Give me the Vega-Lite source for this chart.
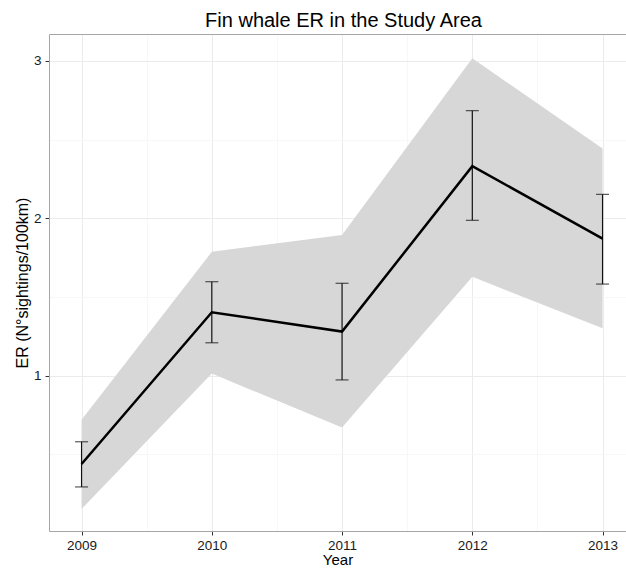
{
  "$schema": "https://vega.github.io/schema/vega-lite/v6.json",
  "width": 577,
  "height": 497,
  "autosize": {"type": "none"},
  "padding": {"left": 49, "top": 34, "right": 0, "bottom": 40},
  "background": "white",
  "title": {
    "text": "Fin whale ER in the Study Area",
    "font": "Liberation Sans",
    "fontSize": 20,
    "fontWeight": "normal",
    "color": "#000000",
    "anchor": "middle",
    "frame": "group",
    "offset": 3,
    "dx": 6
  },
  "config": {
    "view": {"stroke": null},
    "axis": {
      "labelFont": "Liberation Sans",
      "labelFontSize": 13.5,
      "labelColor": "#1a1a1a",
      "titleFont": "Liberation Sans",
      "titleFontSize": 16,
      "titleFontWeight": "normal",
      "titleColor": "#000000",
      "domainColor": "#a6a6a6",
      "domainWidth": 1,
      "tickColor": "#333333",
      "tickSize": 4,
      "tickWidth": 1
    },
    "axisY": {"titleFontSize": 16, "titlePadding": 3}
  },
  "data": {
    "values": [
      {"year": 2009, "er": 0.439, "er_lo": 0.293, "er_hi": 0.580, "band_lo": 0.152, "band_hi": 0.720},
      {"year": 2010, "er": 1.403, "er_lo": 1.209, "er_hi": 1.597, "band_lo": 1.013, "band_hi": 1.787},
      {"year": 2011, "er": 1.280, "er_lo": 0.973, "er_hi": 1.587, "band_lo": 0.671, "band_hi": 1.894},
      {"year": 2012, "er": 2.331, "er_lo": 1.987, "er_hi": 2.684, "band_lo": 1.628, "band_hi": 3.017},
      {"year": 2013, "er": 1.871, "er_lo": 1.582, "er_hi": 2.152, "band_lo": 1.302, "band_hi": 2.443}
    ]
  },
  "resolve": {"axis": {"x": "independent"}},
  "layer": [
    {
      "mark": {"type": "area", "color": "#d7d7d7", "opacity": 1},
      "encoding": {
        "x": {
          "field": "year",
          "type": "quantitative",
          "scale": {"domain": [2008.75, 2013.18], "nice": false, "zero": false},
          "axis": {
            "orient": "bottom",
            "title": "Year",
            "values": [2009, 2009.5, 2010, 2010.5, 2011, 2011.5, 2012, 2012.5, 2013],
            "labelExpr": "datum.value % 1 == 0 ? format(datum.value, 'd') : ''",
            "tickOpacity": {"condition": {"test": "datum.value % 1 != 0", "value": 0}, "value": 1},
            "grid": true,
            "gridColor": {"condition": {"test": "datum.value % 1 != 0", "value": "#f7f7f7"}, "value": "#ebebeb"},
            "labelPadding": 3,
            "titlePadding": 1,
            "titleFontSize": 15
          }
        },
        "y": {
          "field": "band_lo",
          "type": "quantitative",
          "scale": {"domain": [0.013, 3.171], "nice": false, "zero": false},
          "title": "ER (N°sightings/100km)",
          "axis": {
            "values": [0.5, 1, 1.5, 2, 2.5, 3],
            "labelExpr": "datum.value % 1 == 0 ? format(datum.value, 'd') : ''",
            "tickOpacity": {"condition": {"test": "datum.value % 1 != 0", "value": 0}, "value": 1},
            "grid": true,
            "gridColor": {"condition": {"test": "datum.value % 1 != 0", "value": "#f7f7f7"}, "value": "#ebebeb"},
            "labelPadding": 4,
            "titlePadding": 3,
            "titleFontSize": 16
          }
        },
        "y2": {"field": "band_hi"}
      }
    },
    {
      "mark": {"type": "errorbar", "ticks": {"size": 13}, "color": "#111111", "thickness": 1.2},
      "encoding": {
        "x": {"field": "year", "type": "quantitative", "axis": null},
        "y": {"field": "er_lo", "type": "quantitative", "title": "ER (N°sightings/100km)"},
        "y2": {"field": "er_hi"}
      }
    },
    {
      "mark": {"type": "line", "color": "#000000", "strokeWidth": 2.5},
      "encoding": {
        "x": {
          "field": "year",
          "type": "quantitative",
          "axis": {"orient": "top", "labels": false, "ticks": false, "grid": false, "title": null, "domain": true}
        },
        "y": {"field": "er", "type": "quantitative", "title": "ER (N°sightings/100km)"}
      }
    }
  ]
}
